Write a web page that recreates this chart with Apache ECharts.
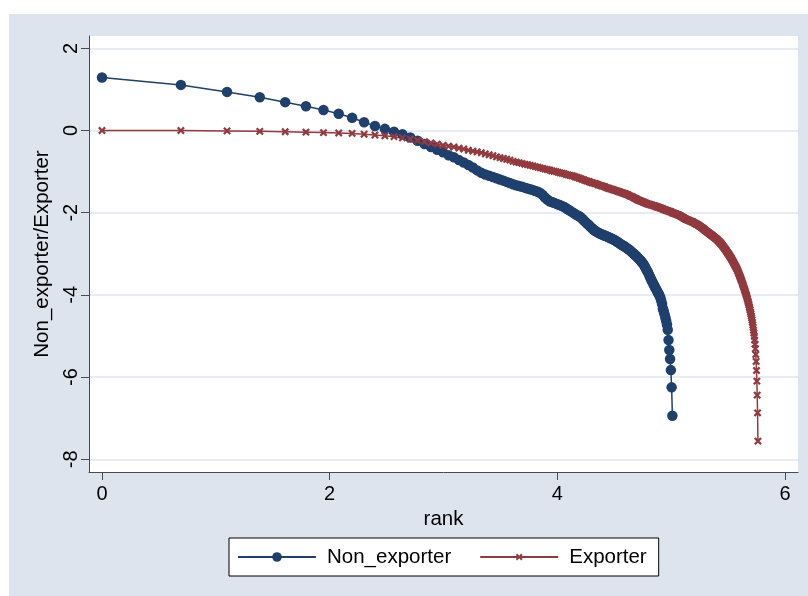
<!DOCTYPE html>
<html>
<head>
<meta charset="utf-8">
<script src="https://cdn.jsdelivr.net/npm/echarts@6/dist/echarts.min.js"></script>
<style>
  html, body { margin: 0; padding: 0; background: #ffffff; }
  #chart { width: 808px; height: 596px; }
</style>
</head>
<body>
<div id="chart"></div>
<script>
// Firm size by rank (log scale), sorted from largest to smallest; position i is rank i + 1.
const seriesNames = ['Non_exporter', 'Exporter'];

const nonExporter = [
  1.29, 1.11, 0.94, 0.81, 0.69, 0.59, 0.50, 0.41, 0.31, 0.20,
  0.11, 0.04, -0.03, -0.09, -0.17, -0.25, -0.33, -0.40, -0.47, -0.53,
  -0.60, -0.65, -0.72, -0.78, -0.84, -0.90, -0.97, -1.03, -1.07, -1.10,
  -1.13, -1.16, -1.19, -1.22, -1.25, -1.28, -1.31, -1.33, -1.35, -1.37,
  -1.39, -1.41, -1.43, -1.45, -1.47, -1.49, -1.52, -1.57, -1.63, -1.68,
  -1.72, -1.74, -1.76, -1.78, -1.80, -1.82, -1.84, -1.86, -1.89, -1.92,
  -1.95, -1.98, -2.01, -2.04, -2.06, -2.08, -2.11, -2.15, -2.19, -2.23,
  -2.27, -2.30, -2.34, -2.38, -2.41, -2.44, -2.46, -2.48, -2.50, -2.52,
  -2.53, -2.55, -2.56, -2.57, -2.59, -2.60, -2.62, -2.63, -2.65, -2.66,
  -2.68, -2.70, -2.72, -2.74, -2.76, -2.78, -2.80, -2.81, -2.83, -2.85,
  -2.87, -2.89, -2.91, -2.93, -2.96, -2.98, -3.00, -3.03, -3.05, -3.08,
  -3.10, -3.13, -3.15, -3.18, -3.21, -3.24, -3.28, -3.32, -3.37, -3.41,
  -3.45, -3.50, -3.55, -3.60, -3.65, -3.69, -3.74, -3.78, -3.82, -3.86,
  -3.90, -3.94, -3.98, -4.02, -4.07, -4.14, -4.22, -4.33, -4.40, -4.47,
  -4.55, -4.63, -4.72, -4.85, -5.10, -5.34, -5.56, -5.83, -6.25, -6.94
];

const exporter = [
  0.00, 0.00, -0.01, -0.02, -0.03, -0.04, -0.05, -0.06, -0.07, -0.09,
  -0.11, -0.13, -0.15, -0.18, -0.21, -0.24, -0.27, -0.30, -0.33, -0.36,
  -0.38, -0.40, -0.43, -0.45, -0.48, -0.50, -0.52, -0.54, -0.57, -0.59,
  -0.61, -0.64, -0.66, -0.68, -0.70, -0.72, -0.75, -0.77, -0.78, -0.80,
  -0.82, -0.83, -0.85, -0.86, -0.88, -0.89, -0.91, -0.92, -0.94, -0.95,
  -0.96, -0.98, -0.99, -1.00, -1.02, -1.03, -1.04, -1.05, -1.07, -1.08,
  -1.09, -1.10, -1.11, -1.13, -1.14, -1.16, -1.17, -1.19, -1.20, -1.22,
  -1.23, -1.24, -1.26, -1.27, -1.28, -1.29, -1.30, -1.32, -1.33, -1.34,
  -1.35, -1.36, -1.37, -1.39, -1.40, -1.41, -1.42, -1.43, -1.44, -1.45,
  -1.46, -1.47, -1.48, -1.49, -1.50, -1.51, -1.52, -1.53, -1.54, -1.55,
  -1.56, -1.57, -1.59, -1.60, -1.61, -1.62, -1.64, -1.65, -1.66, -1.68,
  -1.69, -1.70, -1.71, -1.72, -1.73, -1.74, -1.75, -1.76, -1.77, -1.78,
  -1.79, -1.79, -1.80, -1.81, -1.81, -1.82, -1.83, -1.83, -1.84, -1.85,
  -1.86, -1.86, -1.87, -1.88, -1.89, -1.89, -1.90, -1.91, -1.92, -1.93,
  -1.93, -1.94, -1.95, -1.95, -1.96, -1.97, -1.97, -1.98, -1.99, -2.00,
  -2.01, -2.01, -2.02, -2.03, -2.03, -2.04, -2.05, -2.05, -2.06, -2.07,
  -2.08, -2.09, -2.10, -2.11, -2.12, -2.13, -2.14, -2.15, -2.16, -2.17,
  -2.17, -2.18, -2.19, -2.19, -2.20, -2.21, -2.21, -2.22, -2.22, -2.23,
  -2.24, -2.25, -2.26, -2.27, -2.28, -2.28, -2.29, -2.30, -2.31, -2.32,
  -2.33, -2.34, -2.35, -2.36, -2.37, -2.38, -2.39, -2.40, -2.42, -2.43,
  -2.44, -2.45, -2.46, -2.47, -2.48, -2.49, -2.50, -2.51, -2.52, -2.53,
  -2.54, -2.55, -2.56, -2.57, -2.58, -2.59, -2.60, -2.61, -2.62, -2.63,
  -2.64, -2.65, -2.66, -2.68, -2.69, -2.70, -2.71, -2.73, -2.74, -2.75,
  -2.77, -2.78, -2.80, -2.82, -2.83, -2.85, -2.86, -2.88, -2.90, -2.91,
  -2.93, -2.95, -2.96, -2.98, -3.00, -3.01, -3.03, -3.05, -3.07, -3.08,
  -3.10, -3.12, -3.14, -3.16, -3.18, -3.20, -3.22, -3.24, -3.26, -3.28,
  -3.30, -3.32, -3.34, -3.36, -3.38, -3.41, -3.43, -3.46, -3.48, -3.51,
  -3.54, -3.56, -3.59, -3.62, -3.64, -3.67, -3.70, -3.73, -3.76, -3.79,
  -3.82, -3.85, -3.88, -3.91, -3.94, -3.97, -4.00, -4.03, -4.07, -4.10,
  -4.14, -4.17, -4.21, -4.25, -4.29, -4.33, -4.37, -4.42, -4.46, -4.51,
  -4.56, -4.61, -4.67, -4.73, -4.79, -4.86, -4.93, -5.01, -5.10, -5.20,
  -5.31, -5.45, -5.62, -5.84, -6.10, -6.44, -6.87, -7.56
];

// Axis ticks: x ticks are in log-rank units, y ticks in log-size units
const xTickLabels = [0, 2, 4, 6];
const yTickLabels = [-8, -6, -4, -2, 0, 2];

const NAVY = '#1f3f6d';
const MAROON = '#913a3f';
const FRAME = '#dde4ee';
const FONT = '"Liberation Sans", Arial, sans-serif';

// Small "x" marker; the outer moves pad the box so the cross sits a bit smaller than the circle
const crossMarker = 'path://M0,0 M14,14 M4,2 L7,5 L10,2 L12,4 L9,7 L12,10 L10,12 L7,9 L4,12 L2,10 L5,7 L2,4 Z';

const withRank = (values) => values.map((v, i) => [i + 1, v]);

const chart = echarts.init(document.getElementById('chart'), null, { renderer: 'canvas' });

chart.setOption({
  animation: false,
  backgroundColor: '#ffffff',
  graphic: [{
    type: 'rect',
    z: -10,
    silent: true,
    shape: { x: 9, y: 14, width: 799, height: 582 },
    style: { fill: FRAME }
  }],
  grid: {
    left: 89, right: 10, top: 36, bottom: 124,
    show: true, backgroundColor: '#ffffff', borderWidth: 0,
    containLabel: false, outerBoundsMode: 'none'
  },
  legend: {
    left: 229, top: 538,
    orient: 'horizontal',
    itemWidth: 78, itemHeight: 12, itemGap: 28,
    padding: [8, 12, 8, 8],
    backgroundColor: '#ffffff',
    borderColor: '#000000', borderWidth: 1, borderRadius: 0,
    textStyle: { fontFamily: FONT, fontSize: 20.5, color: '#000000', lineHeight: 22, padding: [0, 0, 0, 6] },
    data: seriesNames
  },
  xAxis: {
    type: 'log',
    logBase: Math.E,
    min: Math.exp(-0.114),
    max: Math.exp(6.114),
    name: 'rank',
    nameLocation: 'middle',
    nameGap: 34,
    nameTextStyle: { fontFamily: FONT, fontSize: 20.5, color: '#000000' },
    axisLine: { show: true, onZero: false, lineStyle: { color: '#4a4a4a', width: 1 } },
    axisTick: { show: true, inside: false, length: 8, lineStyle: { color: '#4a4a4a', width: 1 },
      customValues: xTickLabels.map(Math.exp) },
    axisLabel: { show: true, margin: 12, fontFamily: FONT, fontSize: 20, color: '#000000',
      customValues: xTickLabels.map(Math.exp),
      formatter: (v) => String(Math.round(Math.log(v))) },
    splitLine: { show: false },
    minorTick: { show: false },
    minorSplitLine: { show: false }
  },
  yAxis: {
    type: 'value',
    min: -8.31,
    max: 2.3,
    name: 'Non_exporter/Exporter',
    nameLocation: 'middle',
    nameRotate: 90,
    nameGap: 30,
    nameTextStyle: { fontFamily: FONT, fontSize: 20.5, color: '#000000' },
    axisLine: { show: true, onZero: false, lineStyle: { color: '#4a4a4a', width: 1 } },
    axisTick: { show: true, inside: false, length: 8, lineStyle: { color: '#4a4a4a', width: 1 },
      customValues: yTickLabels },
    axisLabel: { show: true, rotate: 90, margin: 8, fontFamily: FONT, fontSize: 20, color: '#000000',
      customValues: yTickLabels },
    splitLine: { show: true, lineStyle: { color: '#dfe5ef', width: 1.5 } }
  },
  series: [
    {
      name: seriesNames[0],
      type: 'line',
      data: withRank(nonExporter),
      symbol: 'circle',
      symbolSize: 10.5,
      showSymbol: true,
      showAllSymbol: true,
      itemStyle: { color: NAVY, borderWidth: 0 },
      lineStyle: { color: NAVY, width: 1.5 },
      emphasis: { disabled: true }
    },
    {
      name: seriesNames[1],
      type: 'line',
      data: withRank(exporter),
      symbol: crossMarker,
      symbolSize: 11,
      showSymbol: true,
      showAllSymbol: true,
      itemStyle: { color: MAROON, borderWidth: 0 },
      lineStyle: { color: MAROON, width: 1.5 },
      emphasis: { disabled: true }
    }
  ]
});
</script>
</body>
</html>
